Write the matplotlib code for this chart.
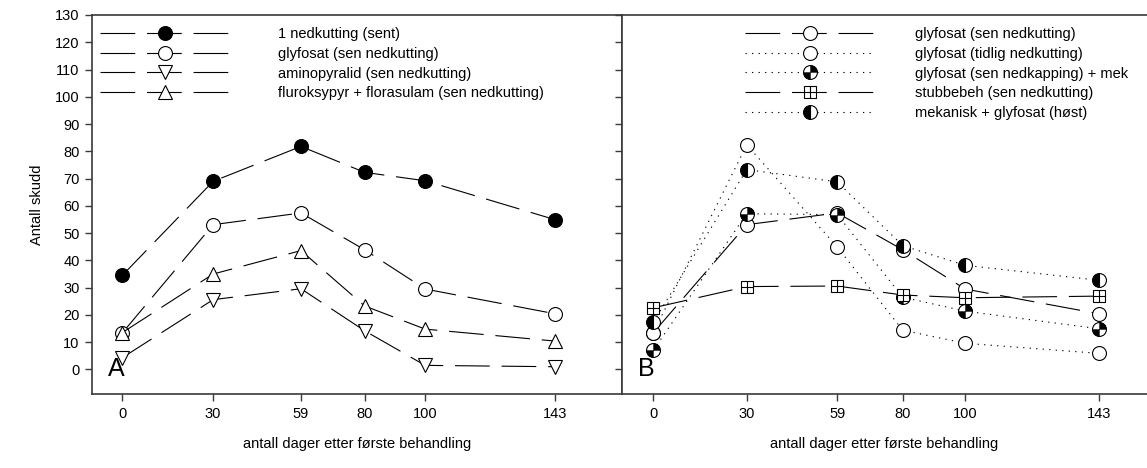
import matplotlib
matplotlib.use('Agg')
import matplotlib.pyplot as plt
from matplotlib.path import Path

plt.rcParams['font.family'] = ['Liberation Sans', 'DejaVu Sans']
plt.rcParams['lines.scale_dashes'] = False

# days after first treatment
days = [0, 30, 59, 80, 100, 143]
xticks = [0, 30, 59, 80, 100, 143]

# Panel A
a_sent = [34.5, 69.0, 81.8, 72.3, 69.2, 54.9]
a_glyf = [13.4, 53.1, 57.4, 43.9, 29.5, 20.4]
a_amino = [4.3, 25.6, 29.6, 14.2, 1.5, 1.0]
a_flur = [13.5, 35.0, 43.6, 23.3, 14.8, 10.4]

# Panel B
b_glyf_sen = [13.4, 53.1, 57.4, 43.9, 29.5, 20.4]
b_glyf_tidlig = [13.4, 82.4, 44.9, 14.4, 9.6, 5.9]
b_glyf_mek = [7.0, 57.1, 56.8, 26.5, 21.4, 14.9]
b_stubbe = [22.6, 30.4, 30.6, 27.3, 26.3, 26.9]
b_mek_glyf = [17.3, 73.3, 68.8, 45.4, 38.2, 32.7]

labels_a = ['1 nedkutting (sent)', 'glyfosat (sen nedkutting)',
            'aminopyralid (sen nedkutting)', 'fluroksypyr + florasulam (sen nedkutting)']
labels_b = ['glyfosat (sen nedkutting)', 'glyfosat (tidlig nedkutting)',
            'glyfosat (sen nedkapping) + mek', 'stubbebeh (sen nedkutting)',
            'mekanisk + glyfosat (høst)']

long_dash = (25, 8.5)
dotted = (0.9, 3.8)
ms = 10
lw = 0.8
fs = 10.5
spine_col = '#3a3a3a'

quarter = Path.make_compound_path(Path.wedge(0, 90), Path.wedge(180, 270))

fig = plt.figure(figsize=(11.47, 4.68), dpi=100)
axA = fig.add_axes([92 / 1147, 74 / 468, 530 / 1147, 379 / 468])
axB = fig.add_axes([622 / 1147, 74 / 468, 525 / 1147, 379 / 468])

common = dict(color='black', lw=lw, ms=ms, mew=lw, mec='black')

# ---- panel A
h1, = axA.plot(days, a_sent, marker='o', mfc='black', dashes=long_dash, **common)
h2, = axA.plot(days, a_glyf, marker='o', mfc='white', dashes=long_dash, **common)
h3, = axA.plot(days, a_amino, marker='v', mfc='white', dashes=long_dash, **common)
h4, = axA.plot(days, a_flur, marker='^', mfc='white', dashes=long_dash, **common)

axA.legend([h1, h2, h3, h4], labels_a, loc='upper left', bbox_to_anchor=(0.015, 0.968),
           frameon=False, fontsize=fs, numpoints=1, handlelength=8.9, handletextpad=3.3,
           labelspacing=0.39, borderpad=0, borderaxespad=0)
axA.text(-4.8, -2.5, 'A', fontsize=18)

# ---- panel B
g1, = axB.plot(days, b_glyf_sen, marker='o', mfc='white', dashes=long_dash, **common)
g2, = axB.plot(days, b_glyf_tidlig, marker='o', mfc='white', dashes=dotted, **common)
g3, = axB.plot(days, b_glyf_mek, marker='o', mfc='white', dashes=dotted, **common)
g3q, = axB.plot(days, b_glyf_mek, ls='none', marker=quarter, ms=ms, mfc='black', mec='black', mew=0.3)
g4, = axB.plot(days, b_stubbe, marker='s', mfc='white', dashes=long_dash, color='black',
               lw=lw, ms=8, mew=lw, mec='black')
g4p, = axB.plot(days, b_stubbe, ls='none', marker='+', ms=8, mew=lw, mec='black')
g5, = axB.plot(days, b_mek_glyf, marker='o', fillstyle='left', mfc='black', mfcalt='white',
               dashes=dotted, **common)

axB.legend([g1, g2, (g3, g3q), (g4, g4p), g5], labels_b, loc='upper left',
           bbox_to_anchor=(0.234, 0.968), frameon=False, fontsize=fs, numpoints=1,
           handlelength=8.9, handletextpad=2.75, labelspacing=0.39, borderpad=0,
           borderaxespad=0)
axB.text(-4.8, -2.5, 'B', fontsize=18)

for ax in (axA, axB):
    ax.set_ylim(-9, 130)
    ax.set_yticks(range(0, 131, 10))
    ax.set_xticks(xticks)
    ax.tick_params(direction='out', length=5, width=1, color=spine_col, labelsize=fs, pad=4)
    ax.set_xlabel('antall dager etter første behandling', fontsize=fs, labelpad=12)
    for s in ax.spines.values():
        s.set_color(spine_col)
        s.set_linewidth(1.2)

axA.set_xlim(-10, 165)
axB.set_xlim(-10, 158.3)
axB.tick_params(axis='y', labelleft=False)
axB.spines['right'].set_visible(False)
axA.set_ylabel('Antall skudd', fontsize=fs, labelpad=8)

fig.savefig('out.png', dpi=100)
